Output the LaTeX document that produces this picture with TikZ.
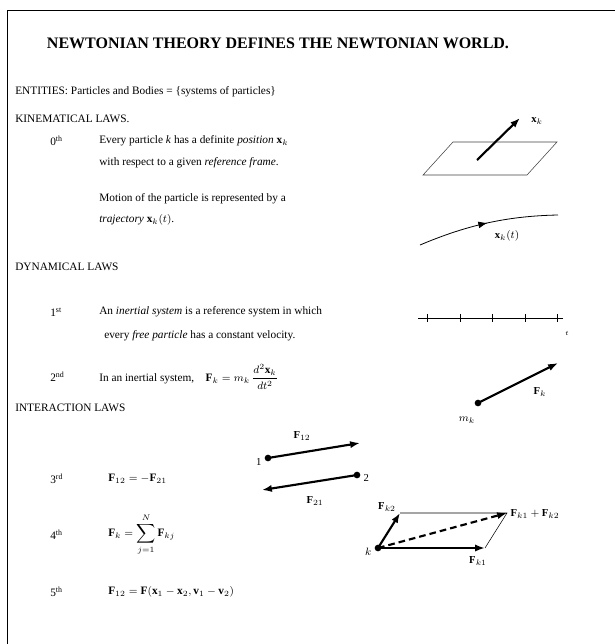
\documentclass[tikz,border=0pt]{standalone}
\usepackage{fontspec}
\setmainfont{Liberation Serif}
\usetikzlibrary{arrows.meta,positioning,decorations.markings}

\begin{document}
\begin{tikzpicture}[x=0.75pt, y=-0.75pt,
  txt/.style={anchor=west, inner sep=0pt, font=\fontsize{8.5}{10}\selectfont},
  title/.style={inner sep=0pt, font=\bfseries\fontsize{12}{14}\selectfont},
  lbl/.style={inner sep=1pt, font=\fontsize{8}{9}\selectfont},
  vec/.style={-{Latex[length=2.6mm,width=1.9mm]}, line width=1.6pt},
  dot/.style={circle, fill, inner sep=0pt, minimum size=5pt},
  plane/.style={line width=0.4pt, black!75},
]
  \useasboundingbox (0,0) rectangle (615,644);
  \draw[line width=0.6pt] (7,644) -- (7,10) -- (615,10);

  \node[title] (head) at (278,43) {NEWTONIAN THEORY DEFINES THE NEWTONIAN WORLD.};
  \node[txt] (ent) at (15,92) {ENTITIES: Particles and Bodies = \{systems of particles\}};

  \node[txt] (kin) at (15,119) {KINEMATICAL LAWS.};
  \node[txt] (n0) at (50,141) {0\textsuperscript{th}};
  \node[txt] (l0a) at (99,141) {Every particle \textit{k} has a definite \textit{position} $\mathbf{x}_k$};
  \node[txt] (l0b) at (99,163) {with respect to a given \textit{reference frame}.};
  \node[txt] (l0c) at (99,199) {Motion of the particle is represented by a};
  \node[txt] (l0d) at (99,220) {\textit{trajectory} $\mathbf{x}_k(t)$.};

  \node[txt] (dyn) at (15,267) {DYNAMICAL LAWS};
  \node[txt] (n1) at (50,312) {1\textsuperscript{st}};
  \node[txt] (l1a) at (99,312) {An \textit{inertial system} is a reference system in which};
  \node[txt] (l1b) at (104,336) {every \textit{free particle} has a constant velocity.};
  \node[txt] (n2) at (50,377) {2\textsuperscript{nd}};
  \node[txt] (l2) at (99,377) {In an inertial system,\quad $\mathbf{F}_k = m_k\,\displaystyle\frac{d^2\mathbf{x}_k}{dt^2}$};

  \node[txt] (int) at (15,408) {INTERACTION LAWS};
  \node[txt] (n3) at (50,479) {3\textsuperscript{rd}};
  \node[txt] (l3) at (108,479) {$\mathbf{F}_{12} = -\mathbf{F}_{21}$};
  \node[txt] (n4) at (50,535) {4\textsuperscript{th}};
  \node[txt] (l4) at (108,535) {$\mathbf{F}_k = \displaystyle\sum_{j=1}^{N}\mathbf{F}_{kj}$};
  \node[txt] (n5) at (50,592) {5\textsuperscript{th}};
  \node[txt] (l5) at (108,592) {$\mathbf{F}_{12} = \mathbf{F}(\mathbf{x}_1-\mathbf{x}_2,\mathbf{v}_1-\mathbf{v}_2)$};

  \coordinate (pa) at (453,142);
  \coordinate (pb) at (557,142);
  \coordinate (pc) at (527,175);
  \coordinate (pd) at (423,175);
  \draw[plane] (pa) -- (pb) -- (pc) -- (pd) -- cycle;
  \coordinate (xs) at (477,160);
  \coordinate (xe) at (520,118);
  \draw[vec] (xs) -- (xe);
  \node[lbl] (xl) at (537,121) {$\mathbf{x}_k$};

  \coordinate (ta) at (420,245);
  \coordinate (tb) at (558,215);
  \draw[line width=0.6pt, postaction={decorate},
    decoration={markings, mark=at position 0.5 with {\arrow{Latex[length=2.4mm]}}}]
    (ta) .. controls (465,226) and (505,216) .. (tb);
  \node[lbl] (tl) at (507,236) {$\mathbf{x}_k(t)$};

  \coordinate (la) at (418,318);
  \coordinate (lb) at (563,318);
  \draw[line width=0.6pt] (la) -- (lb);
  \foreach \x in {427,460,492,525,557}
    \draw[line width=0.6pt] (\x,314) -- (\x,322);
  \node[lbl, font=\fontsize{5}{6}\selectfont] (tt) at (567,333) {$t$};

  \node[dot] (mk) at (478,403) {};
  \coordinate (fk) at (558,363);
  \draw[vec] (mk.center) -- (fk);
  \node[lbl] (fkl) at (540,392) {$\mathbf{F}_k$};
  \node[lbl] (mkl) at (467,420) {$m_k$};

  \node[dot] (p1) at (268,458) {};
  \coordinate (f12) at (360,443);
  \draw[vec] (p1.center) -- (f12);
  \node[lbl, anchor=east] (one) at (263,462) {1};
  \node[lbl] (f12l) at (302,436) {$\mathbf{F}_{12}$};
  \node[dot] (p2) at (357,475) {};
  \coordinate (f21) at (262,490);
  \draw[vec] (p2.center) -- (f21);
  \node[lbl, anchor=west] (two) at (362,478) {2};
  \node[lbl] (f21l) at (315,501) {$\mathbf{F}_{21}$};

  \node[dot] (k) at (378,548) {};
  \coordinate (ka) at (400,513);
  \coordinate (ks) at (507,513);
  \coordinate (kb) at (485,548);
  \draw[plane, black] (ka) -- (ks) -- (kb);
  \draw[vec] (k.center) -- (ka);
  \draw[vec] (k.center) -- (kb);
  \draw[vec, dashed, dash pattern=on 5pt off 3pt] (k.center) -- (ks);
  \node[lbl, anchor=east] (kl) at (373,552) {$k$};
  \node[lbl] (fk2l) at (387,507) {$\mathbf{F}_{k2}$};
  \node[lbl, anchor=west] (fsum) at (509,514) {$\mathbf{F}_{k1}+\mathbf{F}_{k2}$};
  \node[lbl] (fk1l) at (478,561) {$\mathbf{F}_{k1}$};
\end{tikzpicture}
\end{document}
